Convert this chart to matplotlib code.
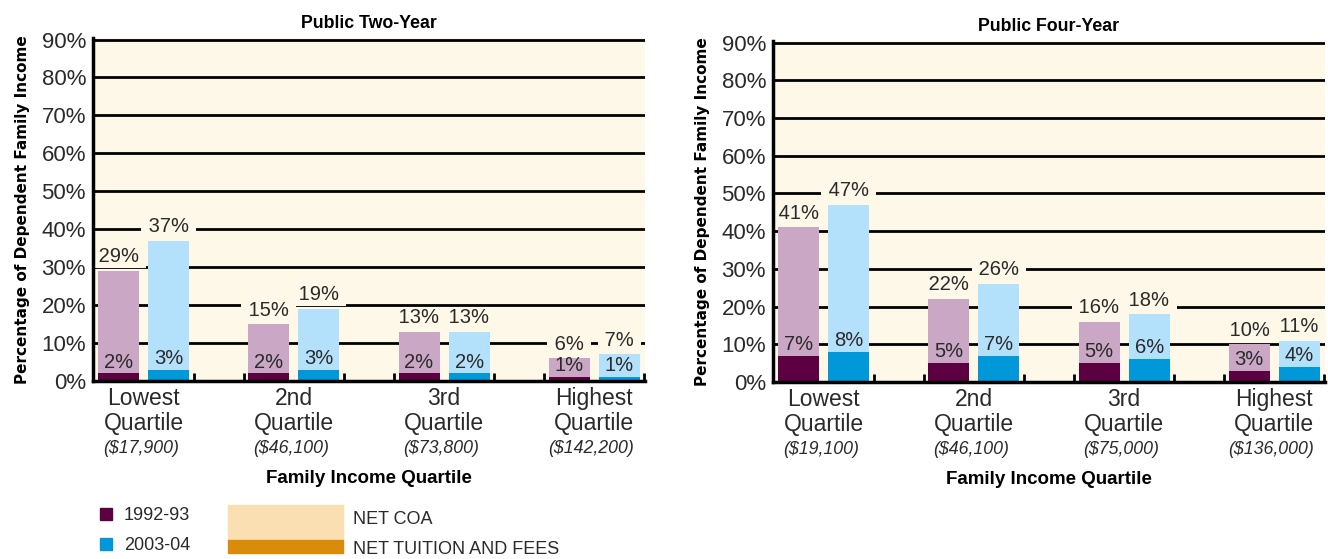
import matplotlib
matplotlib.use("Agg")
import matplotlib.pyplot as plt
import numpy as np
from matplotlib.patches import Rectangle
from matplotlib.transforms import blended_transform_factory

plt.rcParams['font.family'] = ['Liberation Sans Narrow', 'Liberation Sans', 'DejaVu Sans']

# ---------------- data ----------------
categories = ['Lowest\nQuartile', '2nd\nQuartile', '3rd\nQuartile', 'Highest\nQuartile']
two_year_income = ['($17,900)', '($46,100)', '($73,800)', '($142,200)']
four_year_income = ['($19,100)', '($46,100)', '($75,000)', '($136,000)']

two_coa_9293 = [29, 15, 13, 6]
two_coa_0304 = [37, 19, 13, 7]
two_tuit_9293 = [2, 2, 2, 1]
two_tuit_0304 = [3, 3, 2, 1]

four_coa_9293 = [41, 22, 16, 10]
four_coa_0304 = [47, 26, 18, 11]
four_tuit_9293 = [7, 5, 5, 3]
four_tuit_0304 = [8, 7, 6, 4]

yticks = [0, 10, 20, 30, 40, 50, 60, 70, 80, 90]
titles = ['Public Two-Year', 'Public Four-Year']

# ---------------- styles ----------------
BG = '#fdf8e8'
DARK_PURPLE = '#5d0042'
LIGHT_PURPLE = '#c9a7c5'
BLUE = '#0098d9'
LIGHT_BLUE = '#b3e0fa'
PEACH = '#f9dfb2'
ORANGE = '#d98b0b'
TXT = '#2a2a2a'

fig = plt.figure(figsize=(13.28, 5.59), dpi=100)
fig.patch.set_facecolor('white')

axes_rects = [
    [93 / 1328, 1 - 381 / 559, 552 / 1328, 343 / 559],
    [773 / 1328, 1 - 382 / 559, 552 / 1328, 341 / 559],
]

panels = [
    (two_coa_9293, two_coa_0304, two_tuit_9293, two_tuit_0304, two_year_income),
    (four_coa_9293, four_coa_0304, four_tuit_9293, four_tuit_0304, four_year_income),
]

x = np.arange(len(categories))
w = 0.273
off = 0.167

for rect, title, (c1, c2, t1, t2, inc) in zip(axes_rects, titles, panels):
    ax = fig.add_axes(rect)
    ax.set_facecolor(BG)
    ax.set_xlim(-0.337, 3.337)
    ax.set_ylim(0, 90.4)
    for yv in yticks[1:]:
        ax.axhline(yv, color='black', lw=2.0, zorder=1)
    ax.bar(x - off, c1, w, color=LIGHT_PURPLE, zorder=2)
    ax.bar(x + off, c2, w, color=LIGHT_BLUE, zorder=2)
    ax.bar(x - off, t1, w, color=DARK_PURPLE, zorder=3)
    ax.bar(x + off, t2, w, color=BLUE, zorder=3)

    bb = dict(facecolor=BG, edgecolor='none', pad=1.2)
    for xs, cs, ts in ((x - off, c1, t1), (x + off, c2, t2)):
        for xi, cv, tv in zip(xs, cs, ts):
            ax.text(xi, cv + 1.2, f' {cv}% ', ha='center', va='bottom', fontsize=14.5,
                    color=TXT, zorder=5, bbox=bb)
            ax.text(xi, tv + 0.5, f'{tv}%', ha='center', va='bottom', fontsize=14.5,
                    color=TXT, zorder=5)

    for s in ['top', 'right']:
        ax.spines[s].set_visible(False)
    ax.spines['left'].set_linewidth(2.5)
    ax.spines['bottom'].set_linewidth(2.5)
    ax.spines['left'].set_zorder(6)
    ax.spines['bottom'].set_zorder(6)

    ax.set_yticks(yticks)
    ax.set_yticklabels([f'{v}%' for v in yticks], fontsize=16, color=TXT)
    ax.tick_params(axis='y', length=0, pad=5)

    ax.set_xticks(x)
    ax.set_xticklabels(categories, fontsize=16.5, color=TXT, linespacing=1.15)
    ax.tick_params(axis='x', which='major', length=0, pad=4)
    ax.set_xticks(np.arange(1, 11) / 3.0, minor=True)
    ax.tick_params(axis='x', which='minor', direction='in', length=6, width=2,
                   color='black')

    tr = blended_transform_factory(ax.transData, ax.transAxes)
    for xi, s in zip(x, inc):
        ax.text(xi - 0.02, -0.198, s, transform=tr, ha='center', va='center',
                fontsize=12.8, style='italic', color=TXT)

    ax.set_title(title, fontsize=12.8, fontweight='bold', pad=7, color='black')
    ax.set_ylabel('Percentage of Dependent Family Income', fontsize=11,
                  fontweight='bold', family=['DejaVu Sans'], labelpad=8)
    ax.text(0.5, -0.285, 'Family Income Quartile', transform=ax.transAxes,
            ha='center', va='center', fontsize=13.5, fontweight='bold',
            color='black')

# ---------------- legend ----------------
def fx(px):
    return px / 1328

def fy(py):
    return 1 - py / 559

fig.patches.append(Rectangle((fx(100), fy(520)), fx(12), 12 / 559,
                             transform=fig.transFigure, color=DARK_PURPLE))
fig.patches.append(Rectangle((fx(100), fy(550)), fx(12), 12 / 559,
                             transform=fig.transFigure, color=BLUE))
fig.text(fx(124), fy(515), '1992-93', fontsize=13, va='center', color=TXT)
fig.text(fx(124), fy(545), '2003-04', fontsize=13, va='center', color=TXT)
fig.patches.append(Rectangle((fx(228), fy(540)), fx(115), 35 / 559,
                             transform=fig.transFigure, color=PEACH))
fig.patches.append(Rectangle((fx(228), fy(553)), fx(115), 13 / 559,
                             transform=fig.transFigure, color=ORANGE))
fig.text(fx(353), fy(520), 'NET COA', fontsize=13, va='center', color=TXT)
fig.text(fx(353), fy(549), 'NET TUITION AND FEES', fontsize=13, va='center', color=TXT)

fig.savefig('out.png', dpi=100)
